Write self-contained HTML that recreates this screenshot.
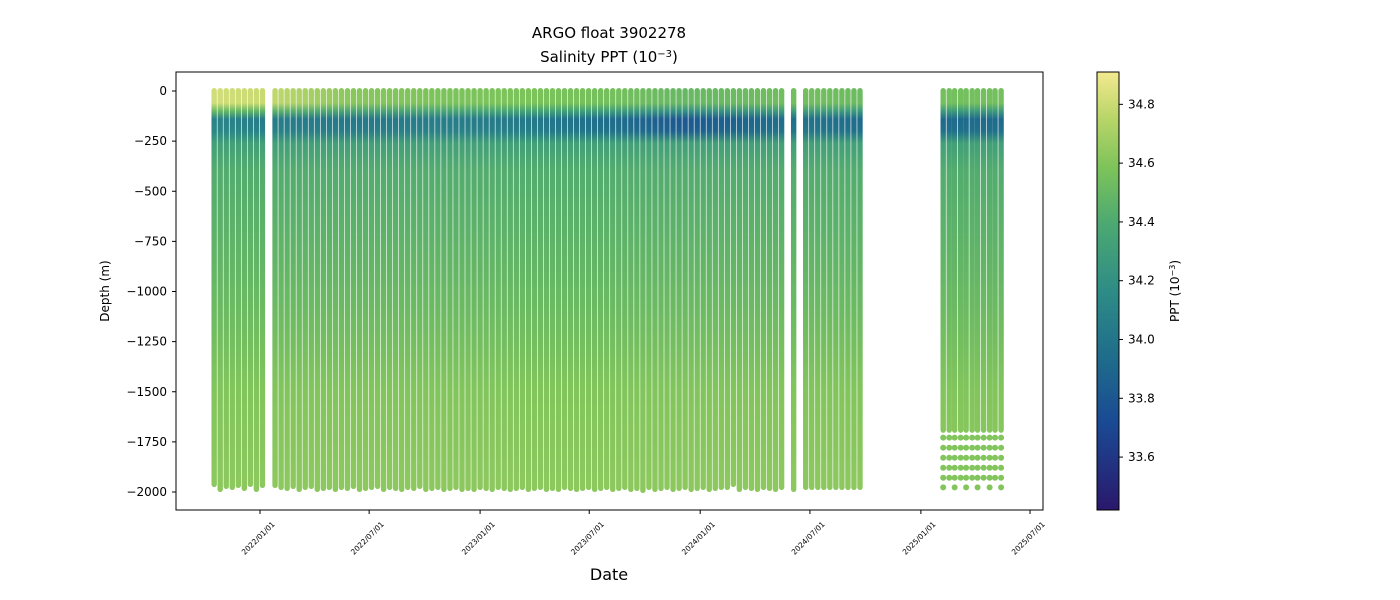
<!DOCTYPE html>
<html><head><meta charset="utf-8"><style>body{margin:0;background:#fff}svg{display:block;font-family:"DejaVu Sans","Liberation Sans",sans-serif}</style></head>
<body>
<svg id="chart" width="1400" height="600" xmlns="http://www.w3.org/2000/svg">
<defs id="defs"></defs>
<rect width="1400" height="600" fill="#fff"/>
<text x="609" y="38" font-size="15" text-anchor="middle">ARGO float 3902278</text>
<text x="609" y="62" font-size="15" text-anchor="middle">Salinity PPT (10<tspan baseline-shift="super" font-size="10">−3</tspan>)</text>
<g id="marks"></g>
<rect x="176" y="72" width="867" height="438" fill="none" stroke="#000" stroke-width="1"/>
<g id="axes"></g>
<text x="609" y="580" font-size="16" text-anchor="middle">Date</text>
<text transform="translate(109,291) rotate(-90)" font-size="12" text-anchor="middle">Depth (m)</text>
<rect id="cbar" x="1097" y="72" width="22" height="438" stroke="#000" stroke-width="1"/>
<text transform="translate(1179,291) rotate(-90)" font-size="12" text-anchor="middle">PPT (10<tspan baseline-shift="super" font-size="8">−3</tspan>)</text>
</svg>
<script>
const profileDays=[-76,-66,-56,-46,-36,-26,-16,-6,4,
25,35,45,55,65,75,85,95,105,115,125,135,145,155,165,175,185,195,205,215,225,235,245,255,265,275,285,295,305,315,325,335,345,355,365,375,385,395,405,415,425,435,445,455,465,475,485,495,505,515,525,535,545,555,565,575,585,595,605,615,625,635,645,655,665,675,685,695,705,715,725,735,745,755,765,775,785,795,805,815,825,835,845,855,865,885,905,915,925,935,945,955,965,975,985,995,
1133,1143,1152,1162,1171,1181,1190,1200,1210,1219,1229];
const mainMaxDepth=[1960,1985,1970,1975,1965,1980,1960,1985,1965,1965,1975,1980,1970,1985,1975,1970,1985,1980,1975,1985,1975,1980,1970,1985,1980,1975,1970,1985,1975,1980,1985,1975,1980,1970,1985,1980,1975,1985,1980,1975,1985,1980,1985,1975,1980,1985,1975,1980,1985,1980,1975,1985,1980,1975,1985,1980,1985,1975,1980,1985,1980,1975,1985,1980,1975,1985,1980,1975,1985,1980,1990,1975,1985,1980,1975,1985,1980,1975,1985,1980,1975,1985,1980,1975,1975,1960,1985,1975,1980,1985,1975,1980,1985,1975,1985,1975];
const lastBlockDepth=1690;
const sparseDepths=[1729,1779,1829,1879,1929,1977];
const depthLevels=[0,60,100,140,200,260,400,700,1100,1500,2000];
const deepSal=[0,0,0,0,0,34.32,34.42,34.46,34.52,34.6,34.63];
const epochDays=[-80,0,150,300,450,600,700,800,900,1000,1130,1240];
const surfSal=[34.82,34.8,34.62,34.58,34.58,34.55,34.5,34.52,34.55,34.52,34.55,34.55];
const thermoSal=[34.1,34.05,34.02,34.05,34.02,33.92,33.8,33.88,33.98,33.92,33.92,33.92];
const cbTicks=[33.6,33.8,34.0,34.2,34.4,34.6,34.8];
const xTickDays=[0,181,365,546,730,912,1096,1277];
const xTickLabels=["2022/01/01","2022/07/01","2023/01/01","2023/07/01","2024/01/01","2024/07/01","2025/01/01","2025/07/01"];
const yTicks=[0,-250,-500,-750,-1000,-1250,-1500,-1750,-2000];
const vmin=33.42,vmax=34.91;
const cmap=[[0,"#2a186c"],[0.2,"#1a4a94"],[0.35,"#1f6d8b"],[0.5,"#2e8c86"],[0.65,"#4ba872"],[0.78,"#7cc35a"],[0.9,"#bcd66a"],[1,"#f3e98f"]];
const xS=d=>260+d*0.603, yS=z=>91+(-z)*0.2005, cS=v=>510-(v-vmin)/(vmax-vmin)*438;
const NS="http://www.w3.org/2000/svg";
function hex(h){return[1,3,5].map(i=>parseInt(h.substr(i,2),16))}
function color(v){let t=Math.max(0,Math.min(1,(v-vmin)/(vmax-vmin)));for(let i=1;i<cmap.length;i++){if(t<=cmap[i][0]){const a=cmap[i-1],b=cmap[i],f=(t-a[0])/(b[0]-a[0]);const A=hex(a[1]),B=hex(b[1]);return"rgb("+A.map((c,k)=>Math.round(c+(B[k]-c)*f)).join(",")+")"}}return cmap[cmap.length-1][1]}
function interp(xs,ys,x){if(x<=xs[0])return ys[0];for(let i=1;i<xs.length;i++)if(x<=xs[i]){const f=(x-xs[i-1])/(xs[i]-xs[i-1]);return ys[i-1]+(ys[i]-ys[i-1])*f}return ys[ys.length-1]}
function el(t,a,p){const e=document.createElementNS(NS,t);for(const k in a)e.setAttribute(k,a[k]);p.appendChild(e);return e}
const defs=document.getElementById('defs'),marks=document.getElementById('marks'),axes=document.getElementById('axes');
profileDays.forEach((d,i)=>{
 const s0=interp(epochDays,surfSal,d),th=interp(epochDays,thermoSal,d);
 const g=el('linearGradient',{id:'g'+i,x1:0,y1:yS(0),x2:0,y2:yS(-2000),gradientUnits:'userSpaceOnUse'},defs);
 depthLevels.forEach((z,k)=>{let v;if(z<=60)v=s0;else if(z<=100)v=(s0+th)/2+0.05;else if(z<=200)v=th+(k===3?0:0.04);else v=deepSal[k];
  el('stop',{offset:z/2000,'stop-color':color(v)},g)});
 const last=d>1100;
 const md=last?lastBlockDepth:(mainMaxDepth[i]||1975);
 const r=el('rect',{x:xS(d)-2.7,y:yS(0)-3,width:5.4,height:yS(-md)-yS(0)+6,rx:2.7,fill:'url(#g'+i+')'},marks);
 
 
 if(last){sparseDepths.forEach((z,k)=>{if(k===5&&i%2===0)return;const c=el('circle',{cx:xS(d),cy:yS(-z),r:3,fill:color(34.6)},marks);
  
  });}
});
yTicks.forEach(v=>{const y=yS(v);el('line',{x1:172,x2:176,y1:y,y2:y,stroke:'#000'},axes);
 const t=el('text',{x:167,y:y+4,'font-size':12,'text-anchor':'end'},axes);t.textContent=v===0?'0':'−'+(-v);
 
 });
xTickDays.forEach((d,i)=>{const x=xS(d);el('line',{x1:x,x2:x,y1:510,y2:514,stroke:'#000'},axes);
 const t=el('text',{transform:`translate(${x},${540}) rotate(-45)`,'font-size':7.5,'text-anchor':'middle'},axes);t.textContent=xTickLabels[i];
 
 });
const cg=el('linearGradient',{id:'cb',x1:0,y1:1,x2:0,y2:0},defs);
cmap.forEach(s=>el('stop',{offset:s[0],'stop-color':s[1]},cg));
document.getElementById('cbar').setAttribute('fill','url(#cb)');
cbTicks.forEach(v=>{const y=cS(v);el('line',{x1:1119,x2:1123,y1:y,y2:y,stroke:'#000'},axes);
 const t=el('text',{x:1128,y:y+4,'font-size':12},axes);t.textContent=v.toFixed(1);
 
 });
</script>
</body></html>
